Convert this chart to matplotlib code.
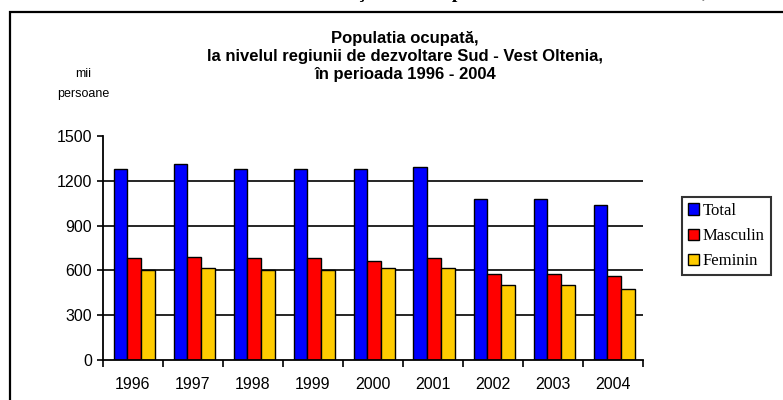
import matplotlib
matplotlib.use("Agg")
import matplotlib.pyplot as plt
from matplotlib.patches import Rectangle, Patch
import numpy as np

years = ["1996", "1997", "1998", "1999", "2000", "2001", "2002", "2003", "2004"]
total = [1280, 1310, 1280, 1280, 1280, 1295, 1075, 1075, 1040]
masculin = [680, 690, 680, 680, 665, 680, 575, 575, 562]
feminin = [600, 615, 600, 600, 615, 615, 500, 500, 473]
series_names = ["Total", "Masculin", "Feminin"]
colors = ["#0000FF", "#FF0000", "#FFCC00"]
yticks = [0, 300, 600, 900, 1200, 1500]
title_lines = ["Populatia ocupată,",
               "la nivelul regiunii de dezvoltare Sud - Vest Oltenia,",
               "în perioada 1996 - 2004"]
unit_lines = ["mii", "persoane"]

plt.rcParams['font.family'] = ['Liberation Sans', 'DejaVu Sans']

W, H = 783, 400
fig = plt.figure(figsize=(W / 100, H / 100), dpi=100)
fig.patch.set_facecolor("white")


def fx(px):
    return px / W


def fy(py):
    return 1 - py / H


# outer frame
fig.patches.append(Rectangle((fx(10), -0.1), 1.2, 0.1 + fy(11.5),
                             transform=fig.transFigure, fill=False,
                             edgecolor="black", linewidth=1.6, zorder=0))

# clipped heading of the page above (only descenders visible)
fig.text(fx(508), fy(-2), "Evoluţia totală a persoanelor active din Oltenia,",
         ha="center", va="baseline", family=["Liberation Serif"], weight="bold",
         fontsize=14)

ax = fig.add_axes([fx(103), fy(360), fx(643 - 103), (360 - 136) / H])
x = np.arange(len(years))
w = 0.23
for i, (vals, c, name) in enumerate(zip([total, masculin, feminin], colors, series_names)):
    ax.bar(x + (i - 1) * w + 0.02, vals, width=w, color=c, edgecolor="black",
           linewidth=1.0, zorder=3, label=name)

ax.set_xlim(-0.5, len(years) - 0.5)
ax.set_ylim(0, 1500)
ax.set_yticks(yticks)
ax.set_yticklabels([str(v) for v in yticks], fontsize=11.5)
for v in yticks[1:-1]:
    ax.axhline(v, color="black", linewidth=1.2, zorder=1)

ax.set_xticks(x)
ax.set_xticklabels(years, fontsize=11.5)
ax.tick_params(axis="x", which="major", length=0, pad=12)
ax.set_xticks(np.arange(-0.5, len(years), 1.0), minor=True)
ax.tick_params(axis="x", which="minor", length=5, width=1.2, direction="out", color="black")
ax.tick_params(axis="y", length=4, width=1.2, direction="out", pad=4)

for s in ["top", "right"]:
    ax.spines[s].set_visible(False)
for s in ["left", "bottom"]:
    ax.spines[s].set_linewidth(1.3)
    ax.spines[s].set_zorder(4)

for line, base in zip(title_lines, [43, 61.5, 79.5]):
    fig.text(fx(405), fy(base), line, ha="center", va="baseline",
             fontsize=12, weight="bold")
for line, base in zip(unit_lines, [77, 97]):
    fig.text(fx(83), fy(base), line, ha="center", va="baseline", fontsize=9)

handles = [Patch(facecolor=c, edgecolor="black", linewidth=1.0) for c in colors]
leg = fig.legend(handles, series_names, loc="upper left",
                 bbox_to_anchor=(fx(682), fy(197)),
                 prop={"family": "Liberation Serif", "size": 12},
                 frameon=True, fancybox=False, edgecolor="black",
                 handlelength=0.65, handleheight=0.65, handletextpad=0.25,
                 borderpad=0.35, labelspacing=0.55, borderaxespad=0)
leg.get_frame().set_linewidth(1.5)

fig.savefig("out.png", dpi=100, facecolor="white")
